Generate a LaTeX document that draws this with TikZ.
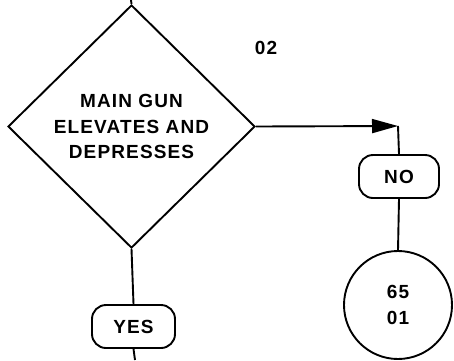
\documentclass[tikz,border=0pt]{standalone}
\usepackage{fontspec}
\newfontfamily\labfont{Liberation Sans}[LetterSpace=6]
\usetikzlibrary{shapes.geometric,arrows.meta}
\begin{document}
\begin{tikzpicture}[x=1pt,y=-1pt,
  line width=1.9pt,
  lbl/.style={font=\labfont\bfseries\fontsize{19}{25.5}\selectfont, align=center},
  decision/.style={diamond, draw, inner sep=0pt, minimum width=247pt, minimum height=243pt, lbl},
  pill/.style={draw, rounded corners=14pt, minimum width=80pt, minimum height=43pt, inner sep=0pt, lbl},
  conn/.style={circle, draw, minimum size=108pt, inner sep=0pt, lbl, font=\labfont\bfseries\fontsize{19}{26.5}\selectfont}]
\useasboundingbox (0,0) rectangle (454,360);
\node[decision] (d) at (131.5,126.5) {MAIN GUN\\ELEVATES AND\\DEPRESSES};
\node[lbl, anchor=center] (code) at (266,48) {02};
\node[pill] (no) at (399,176.5) {NO};
\node[conn] (c) at (398,305) {65\\01};
\node[pill, minimum width=83pt] (yes) at (133.5,326.5) {YES};
\coordinate (top) at (131,0);
\coordinate (bend) at (398,126);
\coordinate (bot) at (135,360);
\draw (top) -- (d.north);
\draw[-{Triangle[length=26pt,width=14pt]}] (d.east) -- (bend);
\draw (bend) -- (no.north);
\draw (no.south) -- (c.north);
\draw (d.south) -- (yes.north);
\draw (yes.south) -- (bot);
\end{tikzpicture}
\end{document}
